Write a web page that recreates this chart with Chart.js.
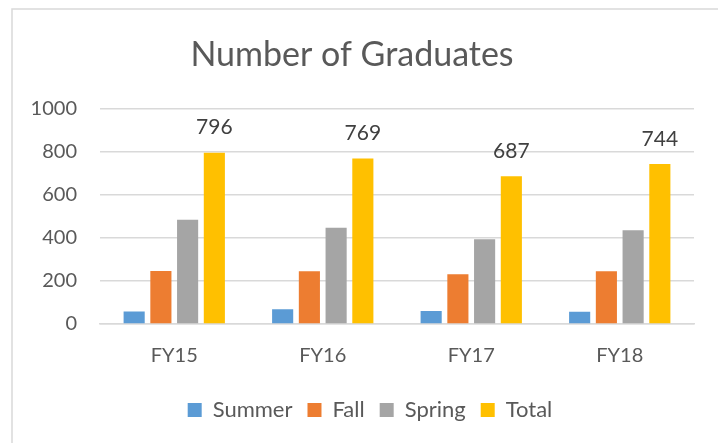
<!DOCTYPE html>
<html>
<head>
<meta charset="utf-8">
<script src="https://cdn.jsdelivr.net/npm/chart.js@4/dist/chart.umd.min.js"></script>
<style>
  html, body { margin: 0; padding: 0; background: #ffffff; }
  #wrap { width: 718px; height: 443px; position: relative; }
</style>
</head>
<body>
<div id="wrap"><canvas id="c" width="718" height="443"></canvas></div>
<script>
const categories = ["FY15", "FY16", "FY17", "FY18"];
const summer = [58, 69, 60, 57];
const fall = [246, 245, 231, 245];
const spring = [485, 447, 394, 436];
const total = [796, 769, 687, 744];
const yTicks = [0, 200, 400, 600, 800, 1000];

const FONT = "Lato, 'Open Sans', sans-serif";
const TEXT = "#595959";

const framePlugin = {
  id: "frame",
  beforeDraw(chart) {
    const ctx = chart.ctx;
    ctx.save();
    ctx.fillStyle = "#ffffff";
    ctx.fillRect(0, 0, chart.width, chart.height);
    ctx.strokeStyle = "#D9D9D9";
    ctx.lineWidth = 1.5;
    ctx.beginPath();
    ctx.moveTo(12, chart.height);
    ctx.lineTo(12, 9);
    ctx.lineTo(chart.width, 9);
    ctx.stroke();
    ctx.restore();
  }
};

const legendShift = {
  id: "legendShift",
  afterLayout(chart) {
    if (chart.legend) {
      chart.legend.left += 18;
      chart.legend.right += 18;
    }
  }
};

const totalLabels = {
  id: "totalLabels",
  afterDatasetsDraw(chart) {
    const ctx = chart.ctx;
    const idx = chart.data.datasets.findIndex(d => d.label === "Total");
    const meta = chart.getDatasetMeta(idx);
    ctx.save();
    ctx.font = "21px " + FONT;
    ctx.fillStyle = "#404040";
    ctx.textAlign = "center";
    ctx.textBaseline = "middle";
    meta.data.forEach((bar, i) => {
      ctx.fillText(String(chart.data.datasets[idx].data[i]), bar.x, bar.y - 25);
    });
    ctx.restore();
  }
};

new Chart(document.getElementById("c"), {
  type: "bar",
  data: {
    labels: categories,
    datasets: [
      { label: "Summer", data: summer, backgroundColor: "#5B9BD5" },
      { label: "Fall", data: fall, backgroundColor: "#ED7D31" },
      { label: "Spring", data: spring, backgroundColor: "#A5A5A5" },
      { label: "Total", data: total, backgroundColor: "#FFC000" }
    ]
  },
  options: {
    responsive: false,
    animation: false,
    devicePixelRatio: 1,
    layout: { padding: { left: 10, right: 24, top: 10, bottom: 12 } },
    datasets: { bar: { categoryPercentage: 0.72, barPercentage: 0.79, borderWidth: 0 } },
    plugins: {
      title: {
        display: true,
        text: "Number of Graduates",
        color: TEXT,
        font: { family: FONT, size: 34, weight: "normal" },
        padding: { top: 25, bottom: 33 }
      },
      legend: {
        position: "bottom",
        labels: {
          color: TEXT,
          font: { family: FONT, size: 22 },
          boxWidth: 14,
          boxHeight: 14,
          padding: 15
        }
      },
      tooltip: { enabled: false }
    },
    scales: {
      x: {
        afterFit(axis) { axis.height += 4; },
        grid: { display: false },
        border: { color: "#D9D9D9", width: 1.5 },
        ticks: { color: TEXT, font: { family: FONT, size: 20 }, padding: 12 }
      },
      y: {
        min: 0,
        max: 1000,
        afterBuildTicks(axis) { axis.ticks = yTicks.map(v => ({ value: v })); },
        afterFit(axis) { axis.width = 90; },
        grid: { color: "#D9D9D9", lineWidth: 1.5, drawTicks: false },
        border: { display: false },
        ticks: { color: TEXT, font: { family: FONT, size: 20 }, padding: 23, callback: v => String(v) }
      }
    }
  },
  plugins: [framePlugin, legendShift, totalLabels]
});
</script>
</body>
</html>
